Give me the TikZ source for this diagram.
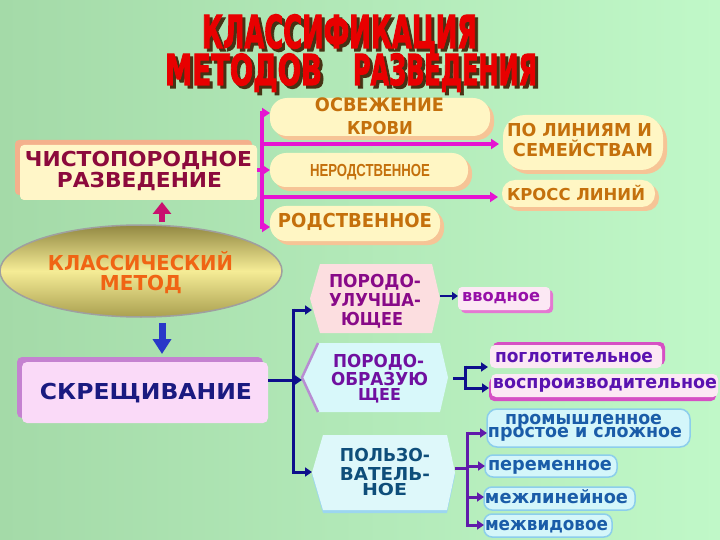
\documentclass[tikz,border=0pt]{standalone}
\usepackage{fontspec}
\setmainfont{Liberation Sans}
\newfontfamily\dvs{DejaVu Sans}
\newfontfamily\ttl{DejaVu Sans}[BoldFeatures={FakeBold=3}]
\usepackage{graphicx}
\usetikzlibrary{shapes.geometric,arrows.meta}

\newcommand{\capfit}[3]{\resizebox{#1pt}{#2pt}{\dvs\bfseries\vphantom{Н}\smash{#3}}}
\newcommand{\narfit}[3]{\resizebox{#1pt}{#2pt}{\bfseries\vphantom{Н}\smash{#3}}}
\newcommand{\ttlfit}[3]{\resizebox{#1pt}{#2pt}{\ttl\bfseries\vphantom{Н}\smash{#3}}}
\newcommand{\lowfit}[3]{\resizebox{#1pt}{#2pt}{\dvs\bfseries\vphantom{н}\smash{#3}}}

\definecolor{bgl}{RGB}{164,218,168}
\definecolor{bgr}{RGB}{192,248,200}
\definecolor{tred}{RGB}{232,0,0}
\definecolor{tshadow}{RGB}{70,50,20}
\definecolor{chfill}{RGB}{255,246,200}
\definecolor{chsh}{RGB}{244,176,140}
\definecolor{chtext}{RGB}{140,10,60}
\definecolor{pillc}{RGB}{255,246,196}
\definecolor{pillsh}{RGB}{246,196,150}
\definecolor{pilltext}{RGB}{196,112,12}
\definecolor{magc}{RGB}{230,20,210}
\definecolor{upc}{RGB}{200,16,110}
\definecolor{dnc}{RGB}{40,56,200}
\definecolor{elltop}{RGB}{146,136,66}
\definecolor{ellmid}{RGB}{245,236,150}
\definecolor{ellbot}{RGB}{170,160,80}
\definecolor{elltext}{RGB}{240,100,20}
\definecolor{skrfill}{RGB}{250,218,248}
\definecolor{skrsh}{RGB}{196,130,208}
\definecolor{skrtext}{RGB}{26,26,128}
\definecolor{navc}{RGB}{14,14,140}
\definecolor{pufill}{RGB}{252,222,224}
\definecolor{putext}{RGB}{136,10,136}
\definecolor{pofill}{RGB}{216,248,250}
\definecolor{poedge}{RGB}{184,140,210}
\definecolor{potext}{RGB}{112,16,160}
\definecolor{pzfill}{RGB}{222,248,250}
\definecolor{pzsh}{RGB}{156,214,240}
\definecolor{pztext}{RGB}{14,78,122}
\definecolor{vvfill}{RGB}{252,232,244}
\definecolor{vvsh}{RGB}{228,120,210}
\definecolor{vvtext}{RGB}{150,16,168}
\definecolor{pgsh}{RGB}{214,80,196}
\definecolor{pgtext}{RGB}{90,18,176}
\definecolor{purc}{RGB}{96,26,170}
\definecolor{cyfill}{RGB}{212,246,250}
\definecolor{cyedge}{RGB}{140,206,236}
\definecolor{cytext}{RGB}{26,92,168}

\tikzset{
  txt/.style={inner sep=0pt, outer sep=0pt, anchor=base},
  box/.style={inner sep=0pt, outer sep=0pt, draw=none},
  pill/.style={box, fill=pillc, rounded corners=#1,
    preaction={fill=pillsh, transform canvas={shift={(4,4)}}}},
  magline/.style={draw=magc, line width=3.5pt},
  magarr/.style={magline, -{Triangle[width=10pt,length=8pt]}},
  navline/.style={draw=navc, line width=3pt},
  navarr/.style={navline, -{Triangle[width=9pt,length=7pt]}},
  purline/.style={draw=purc, line width=3pt},
  purarr/.style={purline, -{Triangle[width=9pt,length=7pt]}},
  cybox/.style={box, fill=cyfill, draw=cyedge, line width=1.5pt, rounded corners=#1},
}

\begin{document}
\begin{tikzpicture}[x=1pt,y=-1pt]
\fill[left color=bgl, right color=bgr] (0,0) rectangle (720,540);
\useasboundingbox (0,0) rectangle (720,540);

% ---------- title ----------
\node[txt, text=tshadow] (t1s) at (342.5,51) {\ttlfit{275}{33}{КЛАССИФИКАЦИЯ}};
\node[txt, text=tred] (t1) at (339.5,48) {\ttlfit{275}{33}{КЛАССИФИКАЦИЯ}};
\node[txt, text=tshadow] (t2s) at (246.5,88) {\ttlfit{157}{31}{МЕТОДОВ}};
\node[txt, text=tred] (t2) at (243.5,85) {\ttlfit{157}{31}{МЕТОДОВ}};
\node[txt, text=tshadow] (t3s) at (448,88) {\ttlfit{184}{31}{РАЗВЕДЕНИЯ}};
\node[txt, text=tred] (t3) at (445,85) {\ttlfit{184}{31}{РАЗВЕДЕНИЯ}};

% ---------- ЧИСТОПОРОДНОЕ ----------
\node[box, fill=chfill, rounded corners=4pt, minimum width=237pt, minimum height=55pt,
  preaction={fill=chsh, transform canvas={shift={(-5,-5)}}}] (chist) at (138.5,172.5) {};
\node[txt, text=chtext] (ch1) at (138.5,167) {\capfit{227}{15}{ЧИСТОПОРОДНОЕ}};
\node[txt, text=chtext] (ch2) at (139.5,188) {\capfit{165}{15}{РАЗВЕДЕНИЕ}};

% ---------- pills ----------
\node[pill=17pt, minimum width=220pt, minimum height=38pt] (osv) at (380,117) {};
\node[txt, text=pilltext] (osv1) at (379.5,112) {\capfit{129}{13.5}{ОСВЕЖЕНИЕ}};
\node[txt, text=pilltext] (osv2) at (380,135) {\capfit{66}{13}{КРОВИ}};

\node[pill=16pt, minimum width=198pt, minimum height=34pt] (nerod) at (369,170) {};
\node[txt, text=pilltext] (nerodt) at (370,177) {\narfit{120}{12}{НЕРОДСТВЕННОЕ}};

\node[pill=16pt, minimum width=170pt, minimum height=35pt] (rodst) at (355,223.5) {};
\node[txt, text=pilltext] (rodstt) at (355,227) {\capfit{154}{14}{РОДСТВЕННОЕ}};

\node[pill=22pt, minimum width=160pt, minimum height=55pt] (lin) at (583,142.5) {};
\node[txt, text=pilltext] (lin1) at (579.5,137) {\capfit{145}{13}{ПО ЛИНИЯМ И}};
\node[txt, text=pilltext] (lin2) at (583,157) {\capfit{140}{13}{СЕМЕЙСТВАМ}};

\node[pill=13pt, minimum width=153pt, minimum height=27pt] (kross) at (578.5,193.5) {};
\node[txt, text=pilltext] (krosst) at (576,201) {\capfit{138}{12}{КРОСС ЛИНИЙ}};

% magenta connectors
\coordinate (mtop) at (262,113);
\coordinate (mbot) at (262,227);
\coordinate (m1) at (262,144);
\coordinate (m2) at (262,197);
\draw[magline] ([yshift=1.75pt]mtop) -- ([yshift=-1.75pt]mbot);
\draw[magarr] (mtop) -- (mtop -| osv.west);
\draw[magarr] (chist.east |- nerod.west) -- (nerod.west);
\draw[magarr] (mbot) -- (mbot -| rodst.west);
\draw[magarr, shorten >=4pt] (m1) -- (m1 -| lin.west);
\draw[magarr, shorten >=4pt] (m2) -- (m2 -| kross.west);

% ---------- ellipse ----------
\node[ellipse, minimum width=282pt, minimum height=92pt, draw=gray!75, line width=1.5pt,
  top color=elltop, bottom color=ellbot, middle color=ellmid, inner sep=0pt] (ell) at (141,271) {};
\node[txt, text=elltext] (el1) at (140.5,270) {\capfit{185}{15}{КЛАССИЧЕСКИЙ}};
\node[txt, text=elltext] (el2) at (141,290) {\capfit{82}{15}{МЕТОД}};

\coordinate (ux) at (162,0);
% ---------- СКРЕЩИВАНИЕ ----------
\node[box, fill=skrfill, rounded corners=5pt, minimum width=246pt, minimum height=61pt,
  preaction={fill=skrsh, transform canvas={shift={(-5,-5)}}}] (skr) at (145,392.5) {};
\node[txt, text=skrtext] (skrt) at (146,399) {\capfit{212}{16}{СКРЕЩИВАНИЕ}};

\draw[draw=upc, line width=6pt, -{Triangle[width=18pt,length=12pt]}, shorten <=2pt, shorten >=2pt]
  (ux |- ell.north) -- (ux |- chist.south);
\draw[draw=dnc, line width=7pt, -{Triangle[width=18pt,length=15pt]}, shorten <=5pt, shorten >=8pt]
  (ux |- ell.south) -- (ux |- skr.north);

% ---------- hexagon blocks ----------
\node[box, minimum width=130pt, minimum height=69pt] (pu) at (375,298.5) {};
\fill[pufill] ([xshift=10pt]pu.north west) -- ([xshift=-8pt]pu.north east) -- (pu.east)
  -- ([xshift=-8pt]pu.south east) -- ([xshift=10pt]pu.south west) -- (pu.west) -- cycle;
\node[txt, text=putext] (pu1) at (375,287) {\capfit{92}{13}{ПОРОДО-}};
\node[txt, text=putext] (pu2) at (375,306) {\capfit{92}{13}{УЛУЧША-}};
\node[txt, text=putext] (pu3) at (372,325) {\capfit{62}{13}{ЮЩЕЕ}};

\node[box, minimum width=146pt, minimum height=69pt] (po) at (375,377.5) {};
\fill[pofill] ([xshift=16pt]po.north west) -- ([xshift=-8pt]po.north east) -- (po.east)
  -- ([xshift=-8pt]po.south east) -- ([xshift=16pt]po.south west) -- (po.west) -- cycle;
\draw[poedge, line width=2.5pt, line join=round] ([xshift=16pt]po.north west) -- (po.west) -- ([xshift=16pt]po.south west);
\node[txt, text=potext] (po1) at (378.5,367) {\capfit{91}{13}{ПОРОДО-}};
\node[txt, text=potext] (po2) at (379.5,385) {\capfit{97}{13}{ОБРАЗУЮ}};
\node[txt, text=potext] (po3) at (379.5,400) {\capfit{43}{12}{ЩЕЕ}};

\node[box, minimum width=143pt, minimum height=75pt] (pz) at (383.5,472.5) {};
\fill[pzsh] ([xshift=11pt,yshift=-3pt]pz.north west) -- ([xshift=-8pt,yshift=-3pt]pz.north east) -- ([yshift=-3pt]pz.east)
  -- ([xshift=-8pt,yshift=-3pt]pz.south east) -- ([xshift=11pt,yshift=-3pt]pz.south west) -- ([yshift=-3pt]pz.west) -- cycle;
\fill[pzfill] ([xshift=11pt]pz.north west) -- ([xshift=-8pt]pz.north east) -- (pz.east)
  -- ([xshift=-8pt]pz.south east) -- ([xshift=11pt]pz.south west) -- (pz.west) -- cycle;
\node[txt, text=pztext] (pz1) at (385,461) {\capfit{90}{13}{ПОЛЬЗО-}};
\node[txt, text=pztext] (pz2) at (385,480) {\capfit{90}{13}{ВАТЕЛЬ-}};
\node[txt, text=pztext] (pz3) at (384.5,495) {\capfit{45}{12}{НОЕ}};

% navy bracket from СКРЕЩИВАНИЕ
\coordinate (nv1) at (293,310);
\coordinate (nv2) at (293,380);
\coordinate (nv3) at (293,472);
\draw[navline] (skr.east |- nv2) -- (nv2);
\draw[navline] ([yshift=1.5pt]nv1) -- ([yshift=-1.5pt]nv3);
\draw[navarr] (nv1) -- ([xshift=2pt]nv1 -| pu.west);
\draw[navarr] (nv2) -- (nv2 -| po.west);
\draw[navarr] (nv3) -- (nv3 -| pz.west);

% ---------- small labels ----------
\node[box, fill=vvfill, rounded corners=4pt, minimum width=92pt, minimum height=23pt,
  preaction={fill=vvsh, transform canvas={shift={(3,3)}}}] (vv) at (504,298.5) {};
\node[txt, text=vvtext] (vvt) at (501,301) {\lowfit{78}{9}{вводное}};
\draw[navline, line width=2.5pt, -{Triangle[width=8pt,length=6pt]}] (pu.east |- 0,296) -- (vv.west |- 0,296);

\node[box, fill=vvfill, rounded corners=5pt, minimum width=172pt, minimum height=23pt,
  preaction={fill=pgsh, transform canvas={shift={(3,-3)}}}] (pog) at (576,356.5) {};
\node[txt, text=pgtext] (pogt) at (574,362) {\lowfit{158}{10}{поглотительное}};

\node[box, fill=vvfill, rounded corners=5pt, minimum width=227pt, minimum height=23pt,
  preaction={fill=pgsh, transform canvas={shift={(-2,4)}}}] (vos) at (604.5,385.5) {};
\node[txt, text=pgtext] (vost) at (605,388) {\lowfit{224}{10}{воспроизводительное}};

\coordinate (pj) at (465,378);
\coordinate (pjt) at (465,367);
\coordinate (pjb) at (465,388);
\draw[navline, shorten <=5pt] (po.east |- pj) -- (pj);
\draw[navline] ([yshift=1.5pt]pjt) -- ([yshift=-1.5pt]pjb);
\draw[navarr] (pjt) -- ([xshift=-2pt]pjt -| pog.west);
\draw[navarr] (pjb) -- ([xshift=-2pt]pjb -| vos.west);

\node[cybox=10pt, minimum width=203pt, minimum height=38pt] (prom) at (588.5,428) {};
\node[txt, text=cytext] (prom1) at (583.5,424.5) {\lowfit{157}{10}{промышленное}};
\node[txt, text=cytext] (prom2) at (585,437.5) {\lowfit{194}{10}{простое и сложное}};
\node[cybox=8pt, minimum width=132pt, minimum height=22pt] (per) at (551,466) {};
\node[txt, text=cytext] (pert) at (550,470) {\lowfit{124}{10}{переменное}};
\node[cybox=8pt, minimum width=151pt, minimum height=23pt] (mezl) at (559.5,498.5) {};
\node[txt, text=cytext] (mezlt) at (556.5,503) {\lowfit{143}{10}{межлинейное}};
\node[cybox=8pt, minimum width=128pt, minimum height=23pt] (mezv) at (548,525.5) {};
\node[txt, text=cytext] (mezvt) at (546.5,530) {\lowfit{123}{10}{межвидовое}};

\coordinate (qj) at (467,468);
\coordinate (q1) at (467,433);
\coordinate (q2) at (467,466);
\coordinate (q3) at (467,497);
\coordinate (q4) at (467,525);
\draw[purline] (pz.east |- qj) -- (qj);
\draw[purline] ([yshift=1.5pt]q1) -- ([yshift=-1.5pt]q4);
\draw[purarr] (q1) -- (q1 -| prom.west);
\draw[purarr] (q2) -- (q2 -| per.west);
\draw[purarr] (q3) -- (q3 -| mezl.west);
\draw[purarr] (q4) -- (q4 -| mezv.west);
\end{tikzpicture}
\end{document}
